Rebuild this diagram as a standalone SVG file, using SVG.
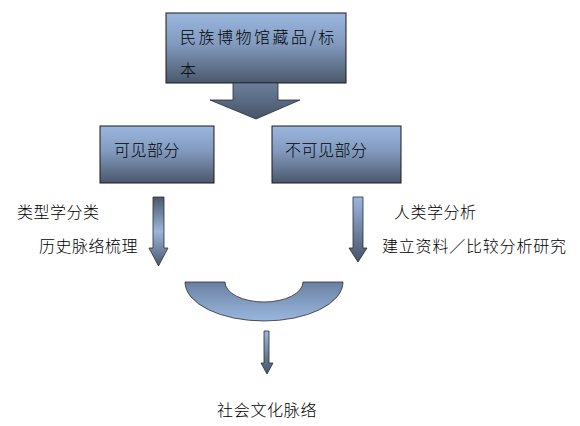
<svg xmlns="http://www.w3.org/2000/svg" width="580" height="426" viewBox="0 0 580 426">
<defs>
<linearGradient id="boxg" x1="0" y1="0" x2="0" y2="1">
<stop offset="0" stop-color="#9bb7df"/>
<stop offset="0.45" stop-color="#8199bd"/>
<stop offset="1" stop-color="#4b586c"/>
</linearGradient>
<linearGradient id="bigarr" x1="0" y1="0" x2="0" y2="1">
<stop offset="0" stop-color="#6c7f9c"/>
<stop offset="1" stop-color="#47546a"/>
</linearGradient>
<linearGradient id="arrL" x1="0" y1="0" x2="0" y2="1">
<stop offset="0" stop-color="#4a586d"/>
<stop offset="0.5" stop-color="#9bb6dc"/>
<stop offset="1" stop-color="#4a586d"/>
</linearGradient>
<linearGradient id="arrR" x1="0" y1="0" x2="0" y2="1">
<stop offset="0" stop-color="#9bb7df"/>
<stop offset="1" stop-color="#46536a"/>
</linearGradient>
<linearGradient id="arcg" x1="0" y1="0" x2="0" y2="1">
<stop offset="0" stop-color="#6a80a2"/>
<stop offset="1" stop-color="#9bb7df"/>
</linearGradient>
</defs>
<style>
.box{fill:url(#boxg);stroke:#1a1a1a;stroke-width:1}
.t{font-family:"Noto Sans CJK SC","Noto Sans",sans-serif;font-size:16px;font-weight:300;fill:#000}
.bt{letter-spacing:2.5px}
.arr{stroke:#2b2b2b;stroke-width:0.8}
</style>
<g id="node-top">
<rect class="box" x="166" y="13" width="180" height="70"/>
<text class="t bt" x="180" y="43">民族博物馆藏品/标</text>
<text class="t" x="180" y="76">本</text>
</g>
<g id="connectors">
<path class="arr" fill="url(#bigarr)" d="M233,83 H278 V100 H300 L256,119 L210,100 H233 Z"/>
<path class="arr" fill="url(#arrL)" d="M153,197 H164 V248 H168 L158.5,266 L149,248 H153 Z"/>
<path class="arr" fill="url(#arrR)" d="M353,197 H363 V248 H367 L358,262 L349,248 H353 Z"/>
<path class="arr" fill="url(#arcg)" d="M185,282 H225 A39,20 0 0 0 303,282 H343 A79,39 0 0 1 185,282 Z"/>
<path class="arr" fill="url(#arrR)" d="M264,331 H269 V363 H273 L267,374 L261,363 H264 Z"/>
</g>
<g id="node-visible">
<rect class="box" x="100" y="126" width="114" height="57"/>
<text class="t" x="114" y="156" letter-spacing="0.5">可见部分</text>
</g>
<g id="node-invisible">
<rect class="box" x="272" y="126" width="129" height="57"/>
<text class="t" x="285" y="156" letter-spacing="0.5">不可见部分</text>
</g>
<g id="labels">
<text class="t" x="17" y="218" letter-spacing="0.5">类型学分类</text>
<text class="t" x="39" y="252" letter-spacing="0.5">历史脉络梳理</text>
<text class="t" x="394" y="218" letter-spacing="0.5">人类学分析</text>
<text class="t" x="382" y="252" letter-spacing="0.8">建立资料／比较分析研究</text>
</g>
<g id="node-result">
<text class="t" x="217" y="416" letter-spacing="0.7">社会文化脉络</text>
</g>
</svg>
